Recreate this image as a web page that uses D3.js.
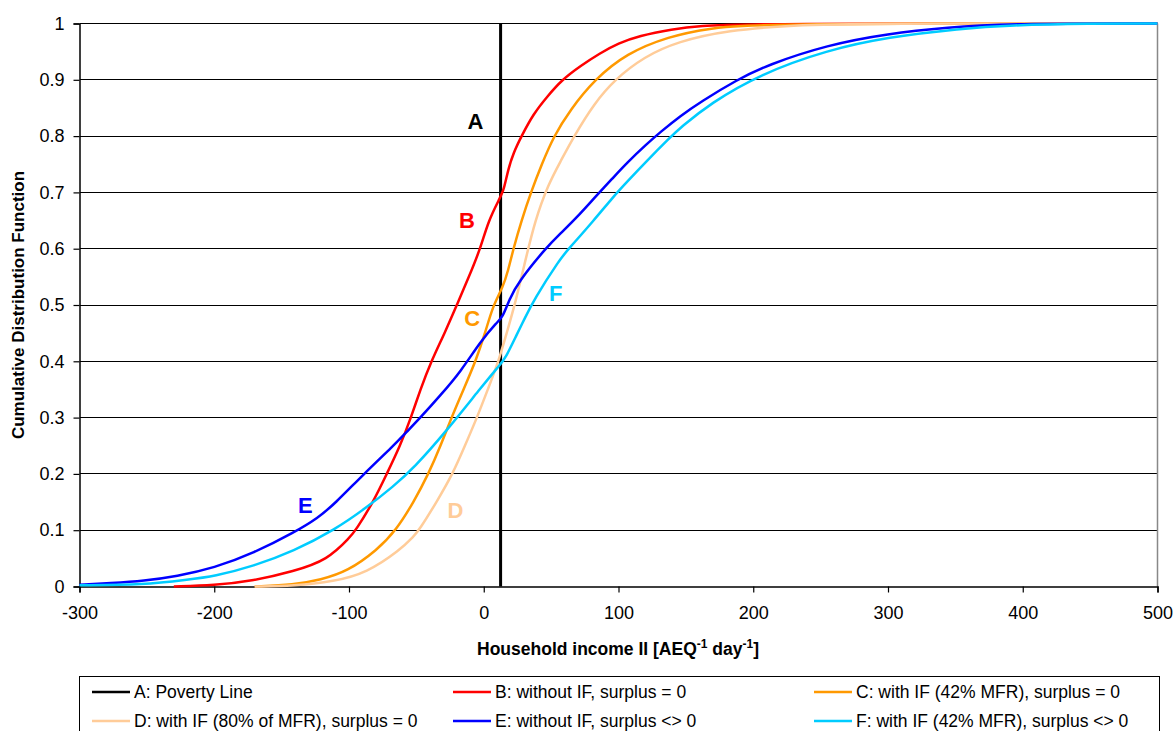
<!DOCTYPE html>
<html>
<head>
<meta charset="utf-8">
<script src="https://cdn.jsdelivr.net/npm/d3@7"></script>
<style>
  body { margin: 0; background: #fff; }
  svg { font-family: "Liberation Sans", Arial, sans-serif; }
</style>
</head>
<body>
<svg id="cdf-svg" width="1174" height="731"></svg>
<script>
// tick values
const xTicks = [-300, -200, -100, 0, 100, 200, 300, 400, 500];
const yTicks = [0, 0.1, 0.2, 0.3, 0.4, 0.5, 0.6, 0.7, 0.8, 0.9, 1];

// poverty line (x position)
const povertyLine = 12.5;

// series: [income, cdf]
const seriesB = [[-230, 0], [-200, 0.002], [-171, 0.01], [-141, 0.027], [-116, 0.047], [-99, 0.088], [-95, 0.1],
  [-82, 0.15], [-72, 0.2], [-62, 0.25], [-54, 0.3], [-47, 0.35], [-39, 0.4], [-29, 0.45], [-20, 0.5], [-11, 0.55],
  [-2.5, 0.6], [3.5, 0.65], [12, 0.69], [15, 0.705], [18, 0.74], [22, 0.77], [28, 0.8], [37, 0.84], [47, 0.87],
  [58, 0.9], [72, 0.925], [86, 0.947], [100, 0.965], [115, 0.978], [140, 0.99], [160, 0.996], [195, 1], [500, 1]];
const seriesC = [[-170, 0], [-141, 0.003], [-121, 0.012], [-101, 0.027], [-79, 0.065], [-65, 0.1], [-52, 0.15],
  [-41, 0.2], [-32, 0.25], [-24, 0.3], [-15, 0.35], [-6, 0.4], [1, 0.45], [7, 0.5], [14, 0.53], [18, 0.56],
  [22, 0.6], [28, 0.65], [35, 0.7], [43, 0.75], [52, 0.8], [64, 0.846], [82, 0.9], [106, 0.947], [137, 0.977],
  [168, 0.992], [205, 1], [500, 1]];
const seriesD = [[-170, 0], [-141, 0.001], [-111, 0.009], [-87, 0.024], [-62, 0.065], [-52, 0.089], [-48, 0.1],
  [-35, 0.15], [-23, 0.2], [-14, 0.25], [-5, 0.3], [3, 0.35], [11, 0.4], [17, 0.45], [23, 0.5], [30, 0.57],
  [38, 0.65], [48, 0.715], [57, 0.755], [67, 0.8], [82, 0.858], [97, 0.9], [119, 0.941], [144, 0.968],
  [181, 0.988], [230, 0.997], [280, 1], [500, 1]];
const seriesE = [[-300, 0.003], [-277, 0.006], [-252, 0.01], [-228, 0.018], [-200, 0.033], [-171, 0.059],
  [-140, 0.097], [-123, 0.122], [-111, 0.146], [-89, 0.2], [-67, 0.25], [-57, 0.275], [-47, 0.3], [-32, 0.34],
  [-17, 0.382], [-2.5, 0.435], [10, 0.47], [14, 0.478], [19, 0.51], [25, 0.539], [47, 0.604], [57, 0.627],
  [72, 0.663], [82, 0.69], [96, 0.726], [106, 0.752], [121, 0.786], [131, 0.807], [146, 0.836], [161, 0.861],
  [188, 0.9], [210, 0.926], [255, 0.962], [300, 0.982], [344, 0.993], [390, 1], [500, 1]];
const seriesF = [[-300, 0.002], [-252, 0.003], [-220, 0.012], [-200, 0.018], [-171, 0.036], [-141, 0.063],
  [-111, 0.1], [-87, 0.14], [-67, 0.178], [-52, 0.21], [-27, 0.278], [-2.5, 0.352], [12, 0.394], [16, 0.405],
  [25, 0.45], [30, 0.474], [37, 0.509], [57, 0.583], [62, 0.597], [82, 0.651], [96, 0.692], [106, 0.718],
  [121, 0.756], [138, 0.797], [146, 0.815], [168, 0.858], [205, 0.91], [255, 0.953], [300, 0.976],
  [354, 0.991], [390, 0.997], [450, 1], [500, 1]];

const seriesData = [seriesB, seriesC, seriesD, seriesE, seriesF];
const seriesColors = ["#ff0000", "#ff9900", "#ffcc99", "#0000ff", "#00ccff"];
const legendLabels = ["A: Poverty Line", "B: without IF, surplus = 0", "C: with IF (42% MFR), surplus = 0",
  "D: with IF (80% of MFR), surplus = 0", "E: without IF, surplus <> 0", "F: with IF (42% MFR), surplus <> 0"];
const legendColors = ["#000000", "#ff0000", "#ff9900", "#ffcc99", "#0000ff", "#00ccff"];

// letter labels placed in data coordinates
const letterLabels = ["A", "B", "C", "D", "E", "F"];
const letterPos = [[-6.2, 0.826], [-12.4, 0.651], [-8.6, 0.477], [-21, 0.136], [-132.4, 0.145], [53.4, 0.521]];

const svg = d3.select("#cdf-svg");

const x = d3.scaleLinear().domain([-300, 500]).range([79.5, 1157.5]);
const y = d3.scaleLinear().domain([0, 1]).range([586.5, 23.5]);

// gridlines
svg.append("g")
  .selectAll("line")
  .data(yTicks.slice(1))
  .join("line")
  .attr("x1", x(-300)).attr("x2", x(500))
  .attr("y1", d => y(d)).attr("y2", d => y(d))
  .attr("stroke", "#000").attr("stroke-width", 1)
  .attr("shape-rendering", "crispEdges");

// right border
svg.append("line")
  .attr("x1", x(500)).attr("x2", x(500))
  .attr("y1", y(0)).attr("y2", y(1))
  .attr("stroke", "#888").attr("stroke-width", 1.5);

// axes
const xAxis = svg.append("g")
  .attr("transform", `translate(0, ${y(0)})`)
  .call(d3.axisBottom(x).tickValues(xTicks).tickSize(6).tickPadding(14).tickFormat(d => d));
const yAxis = svg.append("g")
  .attr("transform", `translate(${x(-300)}, 0)`)
  .call(d3.axisLeft(y).tickValues(yTicks).tickSize(6).tickPadding(9).tickFormat(d => String(+d.toFixed(1))));

[xAxis, yAxis].forEach(g => {
  g.select(".domain").attr("stroke", "#000").attr("stroke-width", 1.5);
  g.selectAll(".tick line").attr("stroke", "#000").attr("stroke-width", 1.2);
  g.selectAll(".tick text").attr("font-size", 18).attr("fill", "#000")
    .attr("font-family", "Liberation Sans, Arial, sans-serif");
});

// poverty line
svg.append("line")
  .attr("x1", x(povertyLine)).attr("x2", x(povertyLine))
  .attr("y1", y(0)).attr("y2", y(1))
  .attr("stroke", "#000").attr("stroke-width", 3);

// curves
const line = d3.line()
  .x(d => x(d[0]))
  .y(d => y(d[1]))
  .curve(d3.curveBasis);

svg.append("g")
  .selectAll("path")
  .data(seriesData)
  .join("path")
  .attr("d", line)
  .attr("fill", "none")
  .attr("stroke", (d, i) => seriesColors[i])
  .attr("stroke-width", 2.5)
  .attr("stroke-linejoin", "round");

// letter labels
svg.append("g")
  .selectAll("text")
  .data(letterLabels)
  .join("text")
  .attr("x", (d, i) => x(letterPos[i][0]))
  .attr("y", (d, i) => y(letterPos[i][1]))
  .attr("dy", "0.36em")
  .attr("text-anchor", "middle")
  .attr("font-size", 22)
  .attr("font-weight", "bold")
  .attr("fill", (d, i) => legendColors[i])
  .text(d => d);

// axis titles
const xTitle = svg.append("text")
  .attr("x", 618)
  .attr("y", 655)
  .attr("text-anchor", "middle")
  .attr("font-size", 17.5)
  .attr("font-weight", "bold");
xTitle.append("tspan").text("Household income II [AEQ");
xTitle.append("tspan").attr("dy", -7).attr("font-size", 12).text("-1");
xTitle.append("tspan").attr("dy", 7).text(" day");
xTitle.append("tspan").attr("dy", -7).attr("font-size", 12).text("-1");
xTitle.append("tspan").attr("dy", 7).text("]");

svg.append("text")
  .attr("transform", `translate(24, 305) rotate(-90)`)
  .attr("text-anchor", "middle")
  .attr("font-size", 17)
  .attr("font-weight", "bold")
  .text("Cumulative Distribution Function");

// legend
const legend = svg.append("g");
legend.append("rect")
  .attr("x", 79.5).attr("y", 676.5)
  .attr("width", 1080).attr("height", 70)
  .attr("fill", "#fff").attr("stroke", "#000").attr("stroke-width", 1);

const colX = [92, 453, 814];
const rowY = [692, 721];
const items = legend.selectAll("g.item")
  .data(legendLabels)
  .join("g")
  .attr("class", "item")
  .attr("transform", (d, i) => `translate(${colX[i % 3]}, ${rowY[Math.floor(i / 3)]})`);
items.append("line")
  .attr("x1", 0).attr("x2", 38)
  .attr("stroke", (d, i) => legendColors[i])
  .attr("stroke-width", 2.5);
items.append("text")
  .attr("x", 42)
  .attr("dy", "0.36em")
  .attr("font-size", 17.5)
  .text(d => d);
</script>
</body>
</html>
